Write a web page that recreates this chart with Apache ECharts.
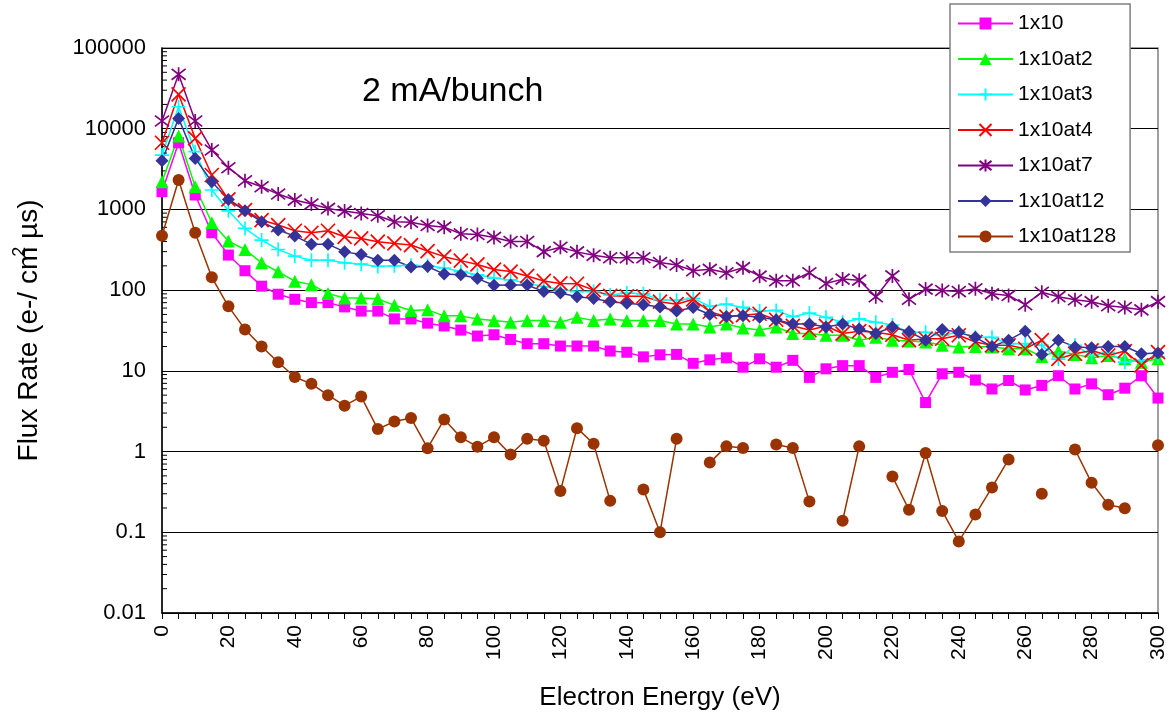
<!DOCTYPE html>
<html>
<head>
<meta charset="utf-8">
<title>Flux Rate vs Electron Energy</title>
<script src="https://cdn.jsdelivr.net/npm/echarts@6/dist/echarts.min.js"></script>
<style>
  html, body { margin: 0; padding: 0; background: #ffffff; }
  #chart { width: 1176px; height: 717px; }
</style>
</head>
<body>
<div id="chart"></div>
<script>
// Electron energy samples (eV)
const energies = [0, 5, 10, 15, 20, 25, 30, 35, 40, 45, 50, 55, 60, 65, 70, 75, 80, 85, 90, 95,
  100, 105, 110, 115, 120, 125, 130, 135, 140, 145, 150, 155, 160, 165, 170, 175, 180, 185, 190, 195,
  200, 205, 210, 215, 220, 225, 230, 235, 240, 245, 250, 255, 260, 265, 270, 275, 280, 285, 290, 295, 300];

// Flux rate (e-/cm^2 us) per configuration; null = no measurement
const flux1x10 = [1660, 6700, 1510, 514, 272, 174, 112, 89, 77, 70, 70, 62, 55, 55, 44, 44, 39, 36, 32, 27,
  28, 24.5, 21.7, 21.7, 20.3, 20.3, 20.3, 17.6, 17, 14.9, 15.8, 16, 12.4, 13.7, 14.5, 11.1, 14.1, 11.1, 13.5, 8.3,
  10.6, 11.6, 11.6, 8.3, 9.6, 10.4, 4.05, 9.2, 9.6, 7.7, 5.96, 7.6, 5.8, 6.6, 8.7, 5.96, 6.9, 5.06, 6.1, 8.7, 4.6];

const flux1x10at2 = [2200, 8100, 1910, 684, 405, 319, 218, 169, 129, 117, 91, 80, 80, 78, 65, 56, 57, 48, 48, 44,
  42, 40, 42, 42, 40, 46, 42, 44, 42, 42, 42, 38, 38, 35, 38, 34, 32, 35, 29, 29,
  27.6, 27.6, 24, 26, 24, 23.5, 22.8, 20.7, 19.8, 20, 19.8, 18.8, 18.8, 15.1, 17.6, 16, 14.5, 15.5, 14.1, 12.8, 14.1];

const flux1x10at3 = [4720, 18700, 5190, 1740, 962, 581, 417, 319, 264, 235, 235, 218, 210, 197, 200, 203, 200, 188, 170, 155,
  141, 134, 122, 111, 101, 96, 96, 87, 92, 90, 76, 75, 79, 63, 67, 61, 55, 56, 47, 52,
  46, 40, 44, 40, 37, 30, 30, 27.6, 30, 26, 26, 21.7, 21.7, 20.7, 14, 20.7, 15.5, 17, 12.8, 13.5, 14.8];

const flux1x10at4 = [6700, 26700, 7590, 2670, 1331, 981, 738, 640, 544, 514, 544, 458, 437, 398, 379, 362, 305, 260, 232, 208,
  180, 170, 150, 130, 121, 120, 100, 85, 84, 84, 72, 67, 77, 54, 47, 49, 51, 43, 36, 32,
  36, 29, 31, 30, 28, 24, 25, 25, 27.6, 22.8, 20.7, 20.7, 18.8, 24, 14.1, 16.3, 17.9, 15.5, 17.6, 11.7, 17.1];

const flux1x10at7 = [12450, 47200, 12450, 5450, 3290, 2270, 1910, 1550, 1306, 1165, 1029, 953, 892, 834, 703, 695, 632, 603, 500, 490,
  450, 400, 400, 300, 340, 298, 270, 252, 252, 252, 220, 205, 174, 181, 164, 190, 149, 131, 131, 164,
  121, 137, 133, 83, 150, 77, 103, 99, 96, 104, 90, 86, 66, 94, 83, 76, 72, 64, 61, 57, 72];

const flux1x10at12 = [4010, 13430, 4290, 2200, 1331, 962, 703, 555, 467, 371, 371, 298, 277, 235, 235, 194, 196, 158, 155, 139,
  115, 116, 116, 96, 92, 83, 79, 72, 69, 66, 62, 55, 61, 50, 47, 48, 46, 43, 38, 38,
  35, 38, 33, 29, 35, 30.5, 24, 32.5, 30, 26, 20, 24, 31, 16, 24, 19.8, 19.4, 20, 20, 16.3, 16.6];

const flux1x10at128 = [472, 2310, 514, 144, 63, 32.6, 20, 12.8, 8.4, 6.9, 5.0, 3.7, 4.8, 1.9, 2.36, 2.6, 1.1, 2.5, 1.5, 1.15,
  1.5, 0.92, 1.44, 1.36, 0.325, 1.95, 1.25, 0.245, null, 0.34, 0.1, 1.44, null, 0.73, 1.16, 1.11, null, 1.22, 1.11, 0.24,
  null, 0.139, 1.16, null, 0.49, 0.19, 0.96, 0.184, 0.077, 0.166, 0.36, 0.80, null, 0.30, null, 1.06, 0.41, 0.22, 0.198, null, 1.2];

const seriesNames = ['1x10', '1x10at2', '1x10at3', '1x10at4', '1x10at7', '1x10at12', '1x10at128'];

// Logarithmic decades on the flux axis and the in-between minor tick multiples
const yDecades = [0.01, 0.1, 1, 10, 100, 1000, 10000];
const yMinorMultiples = [2, 3, 4, 5, 6, 7, 8, 9];

const FONT = '"Liberation Sans", Arial, sans-serif';

function pairs(values) {
  return energies.map((e, i) => [e, values[i] == null ? '-' : values[i]]);
}

const minorTickValues = [];
yDecades.forEach(d => yMinorMultiples.forEach(m => minorTickValues.push(+(d * m).toPrecision(3))));

const PLUS = 'path://M5,0L5,10M0,5L10,5';
const CROSS = 'path://M0,0L10,10M10,0L0,10';
const STAR = 'path://M0,0L10,10M10,0L0,10M5,-1.5L5,11.5';

function lineSeries(name, values, color, symbol, size, stroked) {
  return {
    name: name,
    type: 'line',
    data: pairs(values),
    connectNulls: false,
    symbol: symbol,
    symbolSize: size,
    showAllSymbol: true,
    lineStyle: { color: color, width: 1.5 },
    itemStyle: stroked
      ? { color: color, borderColor: color, borderWidth: 1.7 }
      : { color: color, borderWidth: 0 },
    emphasis: { disabled: true },
    animation: false,
    z: 3
  };
}

const chart = echarts.init(document.getElementById('chart'), null, { renderer: 'canvas' });

chart.setOption({
  backgroundColor: '#ffffff',
  animation: false,
  title: {
    text: '2 mA/bunch',
    left: 362,
    top: 75,
    padding: 0,
    textStyle: { fontFamily: FONT, fontSize: 34, fontWeight: 'normal', color: '#000' }
  },
  legend: {
    data: seriesNames,
    orient: 'vertical',
    left: 950,
    top: 4,
    padding: [9, 14, 5, 7],
    itemWidth: 55,
    itemHeight: 15,
    itemGap: 14.5,
    backgroundColor: '#ffffff',
    borderColor: '#808080',
    borderWidth: 1.5,
    borderRadius: 0,
    selectedMode: false,
    textStyle: { fontFamily: FONT, fontSize: 21, color: '#000' },
    z: 10
  },
  grid: {
    left: 162,
    right: 18,
    top: 48,
    bottom: 104,
    show: true,
    borderColor: '#808080',
    borderWidth: 1.5,
    containLabel: false
  },
  xAxis: {
    type: 'value',
    min: 0,
    max: 300,
    interval: 20,
    name: 'Electron Energy (eV)',
    nameLocation: 'middle',
    nameGap: 72,
    nameTextStyle: { fontFamily: FONT, fontSize: 26, color: '#000' },
    axisLine: { show: true, lineStyle: { color: '#000', width: 1.5 } },
    axisTick: { show: true, inside: false, length: 6, lineStyle: { color: '#000', width: 1 } },
    minorTick: { show: true, splitNumber: 4, length: 6, lineStyle: { color: '#000', width: 1 } },
    splitLine: { show: false },
    axisLabel: {
      rotate: 90,
      margin: 12,
      fontFamily: FONT,
      fontSize: 21,
      color: '#000'
    }
  },
  yAxis: {
    type: 'log',
    logBase: 10,
    min: 0.01,
    max: 100000,
    interval: 1,
    name: 'Flux Rate (e-/ cm{sup|2} µs)',
    nameLocation: 'middle',
    nameGap: 115,
    nameTextStyle: {
      fontFamily: FONT, fontSize: 28, color: '#000',
      rich: { sup: { fontFamily: FONT, fontSize: 18, color: '#000', padding: [0, 0, 18, -10] } }
    },
    axisLine: { show: true, lineStyle: { color: '#000', width: 1.5 } },
    axisTick: { show: true, inside: true, length: 8, lineStyle: { color: '#000', width: 1 } },
    splitLine: { show: true, lineStyle: { color: '#000', width: 1 } },
    axisLabel: {
      margin: 16,
      fontFamily: FONT,
      fontSize: 22,
      color: '#000',
      formatter: v => String(parseFloat(Number(v).toPrecision(3)))
    }
  },
  series: [
    // log-spaced minor ticks along the flux axis
    {
      type: 'custom',
      silent: true,
      clip: false,
      z: 2,
      data: minorTickValues.map(v => [0, v]),
      encode: { x: 0, y: 1 },
      renderItem: function (params, api) {
        const p = api.coord([0, api.value(1)]);
        return {
          type: 'line',
          shape: { x1: p[0], y1: p[1], x2: p[0] + 5, y2: p[1] },
          style: { stroke: '#000', lineWidth: 1 }
        };
      }
    },
    lineSeries('1x10', flux1x10, '#FF00FF', 'rect', 11, false),
    lineSeries('1x10at2', flux1x10at2, '#00FF00', 'triangle', 13, false),
    lineSeries('1x10at3', flux1x10at3, '#00FFFF', PLUS, 14, true),
    lineSeries('1x10at4', flux1x10at4, '#FF0000', CROSS, 14, true),
    lineSeries('1x10at7', flux1x10at7, '#800080', STAR, 14, true),
    lineSeries('1x10at12', flux1x10at12, '#333399', 'diamond', 13, false),
    lineSeries('1x10at128', flux1x10at128, '#993300', 'circle', 12, false)
  ]
});
</script>
</body>
</html>
